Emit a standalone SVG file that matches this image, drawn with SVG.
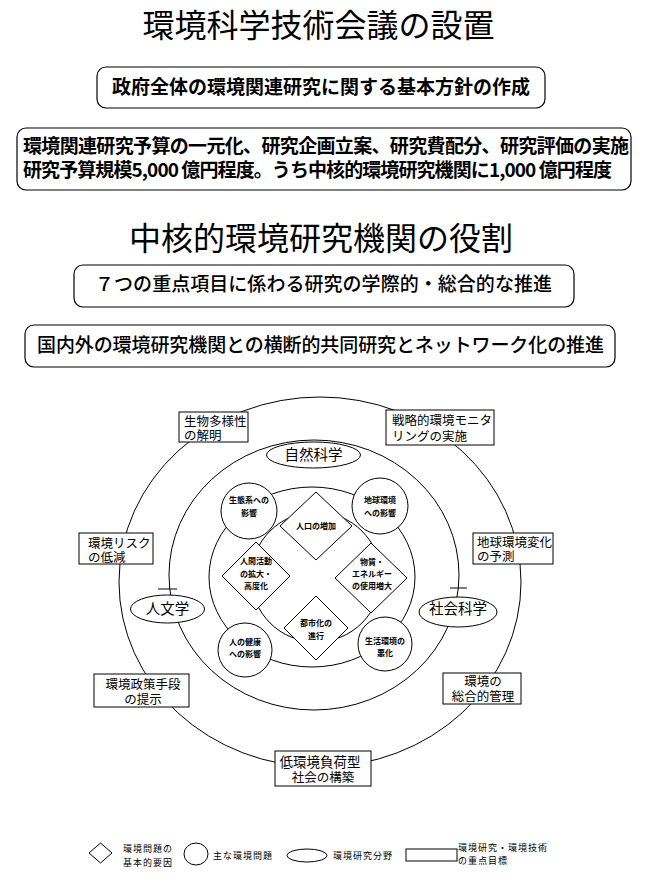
<svg xmlns="http://www.w3.org/2000/svg" width="657" height="882" viewBox="0 0 657 882">
<style>
text{font-family:"Noto Sans CJK JP","Noto Sans CJK SC",sans-serif;fill:#000}
.title{font-size:32px}
.tb{font-size:19px;font-weight:700}
.tm{font-size:19px;font-weight:500}
.lbl{font-size:12.5px}
.fld{font-size:14.5px}
.sm{font-size:8px;font-weight:700}
.lg{font-size:9px;letter-spacing:1px}
.box{fill:#fff;stroke:#000;stroke-width:1.2}
.nd{fill:#fff;stroke:#000;stroke-width:1}
.ln{fill:none;stroke:#000;stroke-width:1}
</style>

<g id="title1"><text class="title" x="318.5" y="37" text-anchor="middle">環境科学技術会議の設置</text></g>
<g id="box-policy">
<rect class="box" x="97" y="67" width="448" height="41" rx="9"/>
<text class="tb" x="321" y="94" text-anchor="middle">政府全体の環境関連研究に関する基本方針の作成</text>
</g>
<g id="box-budget">
<rect class="box" x="17" y="128" width="614" height="62" rx="9"/>
<text class="tb" font-size="18.4"><tspan x="23" y="153" textLength="606">環境関連研究予算の一元化、研究企画立案、研究費配分、研究評価の実施</tspan><tspan x="23" y="177" textLength="589">研究予算規模5,000 億円程度。うち中核的環境研究機関に1,000 億円程度</tspan></text>
</g>
<g id="title2"><text class="title" x="321" y="250" text-anchor="middle">中核的環境研究機関の役割</text></g>
<g id="box-seven">
<rect class="box" x="74" y="265" width="500" height="42" rx="9"/>
<text class="tm" x="95" y="291" textLength="457">７つの重点項目に係わる研究の学際的・総合的な推進</text>
</g>
<g id="box-network">
<rect class="box" x="25" y="325" width="590" height="42" rx="9"/>
<text class="tm" x="37" y="352" textLength="567">国内外の環境研究機関との横断的共同研究とネットワーク化の推進</text>
</g>

<g id="connectors">
<ellipse class="ln" cx="320" cy="582" rx="201" ry="185"/>
<ellipse class="ln" cx="314" cy="575" rx="145" ry="135"/>
<line class="ln" x1="158" y1="589" x2="177" y2="589"/>
<line class="ln" x1="450" y1="588" x2="467" y2="588"/>
<ellipse class="ln" cx="312" cy="577" rx="103" ry="90"/>
<circle class="ln" cx="316" cy="577" r="65"/>
</g>

<g id="goal-biodiversity">
<rect class="nd" x="179" y="412" width="69" height="30"/>
<text class="lbl"><tspan x="184" y="426">生物多様性</tspan><tspan x="184" y="440">の解明</tspan></text>
</g>
<g id="goal-monitoring">
<rect class="nd" x="386" y="410" width="108" height="35"/>
<text class="lbl" font-size="13.4"><tspan x="392" y="425">戦略的環境モニタ</tspan><tspan x="392" y="441">リングの実施</tspan></text>
</g>
<g id="goal-risk">
<rect class="nd" x="79" y="533" width="74" height="31"/>
<text class="lbl"><tspan x="88" y="548">環境リスク</tspan><tspan x="88" y="562">の低減</tspan></text>
</g>
<g id="goal-prediction">
<rect class="nd" x="473" y="533" width="80" height="31"/>
<text class="lbl" font-size="12"><tspan x="477" y="547">地球環境変化</tspan><tspan x="477" y="561">の予測</tspan></text>
</g>
<g id="goal-policy">
<rect class="nd" x="94" y="674" width="95" height="33"/>
<text class="lbl" text-anchor="middle"><tspan x="143" y="689">環境政策手段</tspan><tspan x="143" y="704">の提示</tspan></text>
</g>
<g id="goal-management">
<rect class="nd" x="443" y="673" width="78" height="31"/>
<text class="lbl" text-anchor="middle"><tspan x="483" y="686">環境の</tspan><tspan x="483" y="701">総合的管理</tspan></text>
</g>
<g id="goal-lowload">
<rect class="nd" x="275" y="751" width="96" height="35"/>
<text class="lbl" text-anchor="middle"><tspan x="320" y="767" font-size="13.5">低環境負荷型</tspan><tspan x="323" y="782">社会の構築</tspan></text>
</g>

<g id="field-natural">
<ellipse class="nd" cx="313.5" cy="455" rx="47" ry="13"/>
<text class="fld" x="313.5" y="460" text-anchor="middle">自然科学</text>
</g>
<g id="field-humanities">
<ellipse class="nd" cx="167.5" cy="609" rx="37" ry="14"/>
<text class="fld" x="167.5" y="614" text-anchor="middle">人文学</text>
</g>
<g id="field-social">
<ellipse class="nd" cx="458" cy="612" rx="39" ry="15"/>
<text class="fld" x="458" y="614" text-anchor="middle">社会科学</text>
</g>

<g id="problem-ecosystem">
<circle class="nd" cx="249" cy="511" r="28"/>
<text class="sm" text-anchor="middle"><tspan x="249" y="503">生態系への</tspan><tspan x="249" y="516">影響</tspan></text>
</g>
<g id="problem-global">
<circle class="nd" cx="380" cy="506" r="28"/>
<text class="sm" text-anchor="middle"><tspan x="380" y="503">地球環境</tspan><tspan x="380" y="516">への影響</tspan></text>
</g>
<g id="problem-health">
<circle class="nd" cx="245" cy="650" r="27"/>
<text class="sm" text-anchor="middle"><tspan x="245" y="645">人の健康</tspan><tspan x="245" y="657">への影響</tspan></text>
</g>
<g id="problem-living">
<circle class="nd" cx="385" cy="644" r="27"/>
<text class="sm" text-anchor="middle"><tspan x="385" y="644">生活環境の</tspan><tspan x="385" y="656">悪化</tspan></text>
</g>

<g id="factor-population">
<polygon class="nd" points="316,492 352,526 316,560 280,526"/>
<text class="sm" x="316" y="529" text-anchor="middle">人口の増加</text>
</g>
<g id="factor-activity">
<polygon class="nd" points="256,542 290,576 256,610 222,576"/>
<text class="sm" text-anchor="middle"><tspan x="256" y="564">人間活動</tspan><tspan x="256" y="577">の拡大・</tspan><tspan x="256" y="589">高度化</tspan></text>
</g>
<g id="factor-energy">
<polygon class="nd" points="371,543 407,578 371,613 335,578"/>
<text class="sm" text-anchor="middle"><tspan x="372" y="565">物質・</tspan><tspan x="372" y="577">エネルギー</tspan><tspan x="372" y="589">の使用増大</tspan></text>
</g>
<g id="factor-urban">
<polygon class="nd" points="316,596 348,628 316,660 284,628"/>
<text class="sm" text-anchor="middle"><tspan x="316" y="626">都市化の</tspan><tspan x="316" y="639">進行</tspan></text>
</g>

<g id="legend">
<polygon class="nd" points="100.5,843 112,853 100.5,863 89,853"/>
<text class="lg"><tspan x="123" y="852">環境問題の</tspan><tspan x="123" y="866">基本的要因</tspan></text>
<ellipse class="nd" cx="196" cy="854" rx="12" ry="11"/>
<text class="lg" x="213" y="859">主な環境問題</text>
<ellipse class="nd" cx="307" cy="855.5" rx="20" ry="6.5"/>
<text class="lg" x="333" y="859" letter-spacing="0">環境研究分野</text>
<rect class="nd" x="406" y="849" width="51" height="12"/>
<text class="lg"><tspan x="458" y="851">環境研究・環境技術</tspan><tspan x="458" y="864">の重点目標</tspan></text>
</g>
</svg>
